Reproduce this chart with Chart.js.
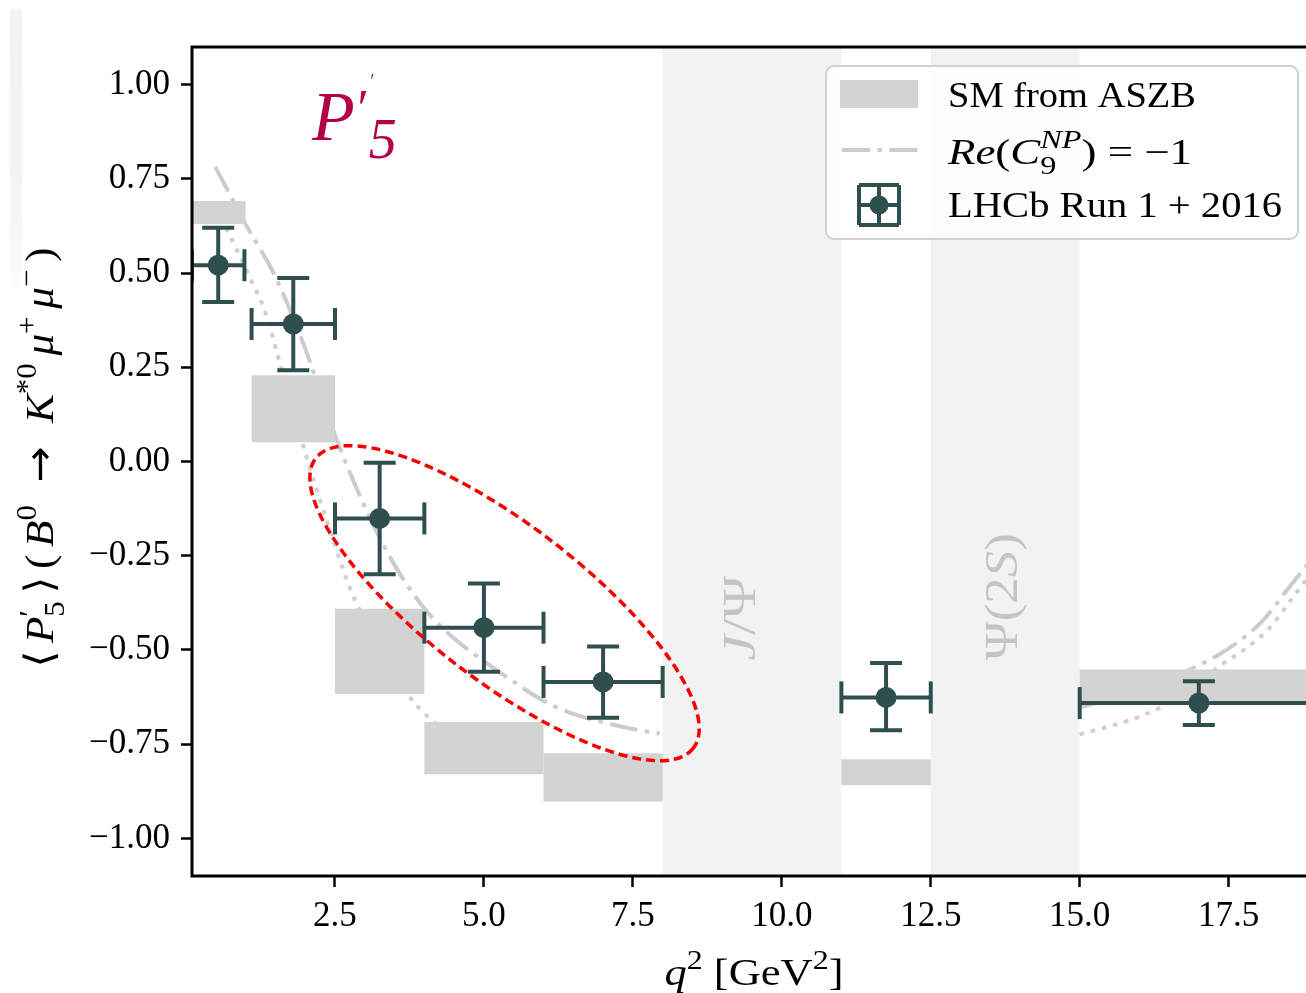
<!DOCTYPE html>
<html>
<head>
<meta charset="utf-8">
<script src="https://cdn.jsdelivr.net/npm/chart.js@4.4.1/dist/chart.umd.min.js"></script>
<style>
  html, body { margin: 0; padding: 0; background: #fff; overflow: hidden; width: 1306px; height: 993px; }
  #wrap { position: relative; width: 1306px; height: 993px; overflow: hidden; }
  #edge { position: absolute; left: 10px; top: 10px; width: 12px; height: 290px;
          background: linear-gradient(to bottom, #f1f1f1, #f5f5f5 70%, rgba(255,255,255,0)); }
  canvas { position: absolute; left: 0; top: 0; }
</style>
</head>
<body>
<div id="wrap">
  <div id="edge"></div>
  <canvas id="chart" width="1340" height="993"></canvas>
</div>
<script>
// ---- q^2 bins and LHCb Run 1 + 2016 measurements of P5' ----
const binLo = [0.1, 1.1, 2.5, 4.0, 6.0, 11.0, 15.0];
const binHi = [0.98, 2.5, 4.0, 6.0, 8.0, 12.5, 19.0];
const lhcbX = [0.54, 1.8, 3.25, 5.0, 7.0, 11.75, 17.0];
const lhcbY = [0.521, 0.365, -0.151, -0.441, -0.585, -0.626, -0.641];
const lhcbErrUp = [0.099, 0.122, 0.148, 0.117, 0.094, 0.091, 0.058];
const lhcbErrDn = [0.098, 0.123, 0.148, 0.117, 0.095, 0.087, 0.058];

// ---- SM prediction boxes (ASZB) ----
const smLo = [0.1, 1.1, 2.5, 4.0, 6.0, 11.0, 15.0];
const smHi = [1.0, 2.5, 4.0, 6.0, 8.0, 12.5, 19.0];
const smYLo = [0.630, 0.051, -0.617, -0.830, -0.902, -0.859, -0.636];
const smYHi = [0.691, 0.229, -0.391, -0.691, -0.774, -0.790, -0.552];

// ---- charmonium veto regions ----
const vetoLo = [8.0, 12.5];
const vetoHi = [11.0, 15.0];

// ---- Re(C9^NP) = -1 curve (dash-dot) ----
const np9LowX = [0.49, 1.0, 1.5, 2.0, 2.5, 3.0, 3.5, 4.0, 4.5, 5.0, 5.5, 6.0, 6.5, 7.0, 7.5, 7.95];
const np9LowY = [0.782, 0.63, 0.49, 0.30, 0.07, -0.12, -0.275, -0.39, -0.47, -0.53, -0.585, -0.635, -0.67, -0.692, -0.71, -0.722];
const np9HighX = [15.0, 15.5, 16.0, 16.5, 16.9, 17.3, 17.68, 18.07, 18.47, 18.79, 19.0];
const np9HighY = [-0.652, -0.632, -0.607, -0.578, -0.548, -0.516, -0.476, -0.423, -0.343, -0.28, -0.238];

// ---- SM curve (dotted) ----
const smCurveLowX = [0.5, 0.69, 1.07, 1.36, 1.54, 1.95, 2.43, 2.84, 3.3, 3.72, 4.14, 4.6, 5.2, 6.0, 7.0, 7.95];
const smCurveLowY = [0.675, 0.614, 0.489, 0.383, 0.28, 0.05, -0.19, -0.37, -0.50, -0.617, -0.689, -0.74, -0.78, -0.81, -0.83, -0.84];
const smCurveHighX = [15.0, 15.79, 16.34, 16.9, 17.4, 17.8, 18.19, 18.57, 18.79, 19.0];
const smCurveHighY = [-0.724, -0.689, -0.654, -0.60, -0.537, -0.495, -0.441, -0.362, -0.316, -0.27];

// ---- axes ----
const xTickValues = [2.5, 5.0, 7.5, 10.0, 12.5, 15.0, 17.5];
const yTickValues = [-1.0, -0.75, -0.5, -0.25, 0.0, 0.25, 0.5, 0.75, 1.0];
const X_MIN = 0.1, X_MAX = 19.0, Y_MIN = -1.1, Y_MAX = 1.1;

// ---- styling ----
const FONT = '"Liberation Serif", "DejaVu Serif", serif';
const DATA_COLOR = '#2f4f4f';
const SM_BOX_COLOR = 'rgb(211,211,211)';
const VETO_COLOR = 'rgb(242,242,242)';
const CURVE_COLOR = 'rgb(204,204,204)';
const DOT_COLOR = 'rgb(208,208,208)';
const DASHDOT = [28, 7.5, 4.5, 7.5];
const DOTTED = [4.5, 7];

const pts = (xs, ys) => xs.map((x, i) => ({ x, y: ys[i] }));
const rect = (x0, x1, y0, y1) => [{x: x0, y: y0}, {x: x1, y: y0}, {x: x1, y: y1}, {x: x0, y: y1}];

const datasets = [];

vetoLo.forEach((lo, i) => datasets.push({
  data: rect(lo, vetoHi[i], Y_MIN, Y_MAX), fill: 'shape', backgroundColor: VETO_COLOR,
  borderWidth: 0, pointRadius: 0, tension: 0, order: 60
}));

const curveStyle = (color, dash) => ({
  fill: false, borderColor: color, borderWidth: 4, borderDash: dash, borderCapStyle: 'butt',
  pointRadius: 0, cubicInterpolationMode: 'monotone', order: 50
});
datasets.push({ data: pts(smCurveLowX, smCurveLowY), ...curveStyle(DOT_COLOR, DOTTED) });
datasets.push({ data: pts(smCurveHighX, smCurveHighY), ...curveStyle(DOT_COLOR, DOTTED) });
datasets.push({ data: pts(np9LowX, np9LowY), ...curveStyle(CURVE_COLOR, DASHDOT) });
datasets.push({ data: pts(np9HighX, np9HighY), ...curveStyle(CURVE_COLOR, DASHDOT) });

smLo.forEach((lo, i) => datasets.push({
  data: rect(lo, smHi[i], smYLo[i], smYHi[i]), fill: 'shape', backgroundColor: SM_BOX_COLOR,
  borderWidth: 0, pointRadius: 0, tension: 0, order: 40
}));

// horizontal error bars (bin widths) with vertical caps
const errXData = [];
lhcbX.forEach((x, i) => {
  errXData.push({x: binLo[i], y: lhcbY[i]}, {x: binHi[i], y: lhcbY[i]}, {x: binHi[i], y: null});
});
// vertical error bars with horizontal caps
const errYData = [];
lhcbX.forEach((x, i) => {
  errYData.push({x, y: lhcbY[i] - lhcbErrDn[i]}, {x, y: lhcbY[i] + lhcbErrUp[i]}, {x, y: null});
});
const barStyle = (rot) => ({
  showLine: true, spanGaps: false, fill: false, tension: 0,
  borderColor: DATA_COLOR, borderWidth: 4,
  pointStyle: 'line', pointRotation: rot, pointRadius: 16,
  pointBorderColor: DATA_COLOR, pointBorderWidth: 4, pointBackgroundColor: DATA_COLOR, order: 20
});
datasets.push({ data: errXData, ...barStyle(90) });
datasets.push({ data: errYData, ...barStyle(0) });
datasets.push({
  data: pts(lhcbX, lhcbY), showLine: false, pointStyle: 'circle', pointRadius: 10.5,
  pointBackgroundColor: DATA_COLOR, pointBorderWidth: 0, order: 10
});

// ---- rich text (sub/superscripts) ----
// When a label is spread to a given length, each gap after a run gets extra space
// in proportion to the run's weight g (default 1).
function layoutRuns(ctx, runs, size, extra) {
  const items = [];
  let cx = 0, stackX = null, stackW = 0, weights = 0;
  runs.forEach((r, idx) => {
    const sz = size * (r.s || 1);
    const font = (r.it ? 'italic ' : '') + sz + 'px ' + (r.f || FONT);
    ctx.font = font;
    const dx = (r.dx || 0) * size;
    const w = ctx.measureText(r.t).width + dx;
    const x0 = (stackX !== null ? stackX : cx) + dx;
    items.push({ t: r.t, font, x: x0, y: (r.dy || 0) * size, c: r.c });
    if (r.stack) {
      if (stackX === null) stackX = cx;
      stackW = Math.max(stackW, w);
      return;
    }
    if (stackX !== null) { cx = stackX + Math.max(stackW, w); stackX = null; stackW = 0; }
    else cx += w;
    if (idx < runs.length - 1) {
      const g = r.g != null ? r.g : 1;
      cx += extra * g; weights += g;
    }
  });
  return { items, width: cx, weights };
}

function drawRich(ctx, runs, o) {
  ctx.save();
  let lay = layoutRuns(ctx, runs, o.size, 0);
  let sx = o.sx || 1;
  if (o.width && o.spread && lay.weights > 0) {
    lay = layoutRuns(ctx, runs, o.size, (o.width / sx - lay.width) / lay.weights);
  } else if (o.width) {
    sx = o.width / lay.width;
  }
  const total = lay.width * sx;
  ctx.translate(o.x, o.y);
  if (o.rotate) ctx.rotate(o.rotate);
  ctx.translate(o.align === 'center' ? -total / 2 : (o.align === 'right' ? -total : 0), 0);
  ctx.scale(sx, 1);
  ctx.textBaseline = 'alphabetic';
  ctx.textAlign = 'left';
  for (const it of lay.items) {
    ctx.font = it.font;
    ctx.fillStyle = it.c || o.color || '#000';
    ctx.fillText(it.t, it.x, it.y);
  }
  ctx.restore();
}

const ARROW_FONT = '"DejaVu Sans", sans-serif';
const yTitleRuns = [
  {t: '⟨'}, {t: 'P', it: 1, g: 0}, {t: '′', s: 0.72, dy: -0.36, stack: 1}, {t: '5', s: 0.72, dy: 0.28}, {t: '⟩'},
  {t: '('}, {t: 'B', it: 1, g: 0}, {t: '0', s: 0.72, dy: -0.42, g: 3}, {t: '→', f: ARROW_FONT, g: 3},
  {t: 'K', it: 1, g: 0}, {t: '*0', s: 0.72, dy: -0.42}, {t: 'μ', it: 1, g: 0}, {t: '+', s: 0.72, dy: -0.42},
  {t: 'μ', it: 1, g: 0}, {t: '−', s: 0.72, dy: -0.42}, {t: ')'}
];
const xTitleRuns = [{t: 'q', it: 1}, {t: '2', s: 0.72, dy: -0.42}, {t: ' [GeV'}, {t: '2', s: 0.72, dy: -0.42}, {t: ']'}];
const legendRuns = [
  [{t: 'SM from ASZB'}],
  [{t: 'Re', it: 1}, {t: '('}, {t: 'C', it: 1}, {t: 'NP', it: 1, s: 0.72, dy: -0.45, stack: 1}, {t: '9', s: 0.72, dy: 0.28}, {t: ')'}, {t: ' = −1'}],
  [{t: 'LHCb Run 1 + 2016'}]
];
const jpsiRuns = [{t: 'J', it: 1}, {t: '/Ψ'}];
const psi2sRuns = [{t: 'Ψ(2'}, {t: 'S', it: 1}, {t: ')'}];
const p5Runs = [{t: 'P', it: 1}, {t: '′', s: 0.75, dy: -0.2, dx: 0.04, stack: 1}, {t: '5', it: 1, s: 0.8, dy: 0.25, dx: 0.2}];

const decorations = {
  id: 'decorations',
  afterDatasetsDraw(chart) {
    const ctx = chart.ctx;
    const {left, right, top, bottom} = chart.chartArea;
    const xs = chart.scales.x, ys = chart.scales.y;

    // veto region labels
    drawRich(ctx, jpsiRuns, { x: xs.getPixelForValue(9.55), y: ys.getPixelForValue(-0.416), size: 46,
      align: 'center', rotate: -Math.PI / 2, width: 85, color: 'rgb(196,196,196)' });
    drawRich(ctx, psi2sRuns, { x: xs.getPixelForValue(13.95), y: ys.getPixelForValue(-0.359), size: 46,
      align: 'center', rotate: -Math.PI / 2, width: 127, color: 'rgb(196,196,196)' });

    // observable label
    const px = xs.getPixelForValue(2.114), py = ys.getPixelForValue(0.852);
    drawRich(ctx, p5Runs, { x: px, y: py, size: 70, color: 'rgb(178,0,72)' });
    ctx.save();
    ctx.font = 'italic 20px ' + FONT;
    ctx.fillStyle = '#555';
    ctx.fillText('′', px + 57, py - 52);
    ctx.restore();

    // axes frame
    ctx.save();
    ctx.strokeStyle = '#000';
    ctx.lineWidth = 3;
    ctx.strokeRect(left, top, right - left, bottom - top);
    ctx.restore();

    // highlighted region
    ctx.save();
    ctx.beginPath();
    ctx.ellipse(xs.getPixelForValue(5.346), ys.getPixelForValue(-0.376), 238, 78, 37.5 * Math.PI / 180, 0, Math.PI * 2);
    ctx.setLineDash([9, 5]);
    ctx.lineWidth = 3.5;
    ctx.strokeStyle = 'rgb(245,0,0)';
    ctx.stroke();
    ctx.restore();

    // legend
    const L = {x: 826, y: 66, w: 472, h: 173};
    ctx.save();
    ctx.beginPath();
    ctx.roundRect(L.x, L.y, L.w, L.h, 8);
    ctx.fillStyle = 'rgba(255,255,255,0.8)';
    ctx.fill();
    ctx.lineWidth = 2;
    ctx.strokeStyle = 'rgb(208,208,208)';
    ctx.stroke();

    ctx.fillStyle = SM_BOX_COLOR;
    ctx.fillRect(840, 80, 78, 28);

    ctx.beginPath();
    ctx.setLineDash(DASHDOT);
    ctx.lineWidth = 4;
    ctx.strokeStyle = CURVE_COLOR;
    ctx.moveTo(842, 150); ctx.lineTo(918, 150);
    ctx.stroke();
    ctx.setLineDash([]);

    const ex = 879, ey = 205, eh = 20;
    ctx.strokeStyle = DATA_COLOR;
    ctx.lineWidth = 4;
    ctx.beginPath();
    ctx.moveTo(ex - eh, ey); ctx.lineTo(ex + eh, ey);
    ctx.moveTo(ex, ey - eh); ctx.lineTo(ex, ey + eh);
    ctx.moveTo(ex - eh, ey - eh); ctx.lineTo(ex - eh, ey + eh);
    ctx.moveTo(ex + eh, ey - eh); ctx.lineTo(ex + eh, ey + eh);
    ctx.moveTo(ex - eh, ey - eh); ctx.lineTo(ex + eh, ey - eh);
    ctx.moveTo(ex - eh, ey + eh); ctx.lineTo(ex + eh, ey + eh);
    ctx.stroke();
    ctx.beginPath();
    ctx.arc(ex, ey, 9.5, 0, Math.PI * 2);
    ctx.fillStyle = DATA_COLOR;
    ctx.fill();
    ctx.restore();

    drawRich(ctx, legendRuns[0], { x: 948, y: 107, size: 36, width: 248 });
    drawRich(ctx, legendRuns[1], { x: 948, y: 164, size: 36, width: 244 });
    drawRich(ctx, legendRuns[2], { x: 948, y: 217, size: 36, width: 334 });

    // axis titles
    drawRich(ctx, xTitleRuns, { x: (left + right) / 2 - 1, y: 985, size: 38, align: 'center', width: 179 });
    drawRich(ctx, yTitleRuns, { x: 53, y: (top + bottom) / 2 - 4, size: 40, align: 'center',
      rotate: -Math.PI / 2, width: 420, spread: true, sx: 1.08 });
  }
};

const fmtY = v => (Math.abs(v) < 1e-9 ? '0.00' : v.toFixed(2).replace('-', '−'));

new Chart(document.getElementById('chart').getContext('2d'), {
  type: 'line',
  data: { datasets },
  options: {
    responsive: false,
    animation: false,
    devicePixelRatio: 1,
    events: [],
    layout: { padding: { left: 0, right: 22, top: 47, bottom: 0 } },
    plugins: { legend: { display: false }, tooltip: { enabled: false } },
    scales: {
      x: {
        type: 'linear', min: X_MIN, max: X_MAX,
        afterBuildTicks: s => { s.ticks = xTickValues.map(v => ({ value: v })); },
        afterFit: s => { s.height = 117; },
        ticks: { font: { family: FONT, size: 35 }, color: '#000', padding: 9, maxRotation: 0, autoSkip: false,
                 callback: v => Number(v).toFixed(1) },
        grid: { display: true, drawOnChartArea: false, drawTicks: true, tickLength: 11, tickWidth: 2.5, tickColor: '#000' },
        border: { display: false }
      },
      y: {
        type: 'linear', min: Y_MIN, max: Y_MAX,
        afterBuildTicks: s => { s.ticks = yTickValues.map(v => ({ value: v })); },
        afterFit: s => { s.width = 192; },
        ticks: { font: { family: FONT, size: 35 }, color: '#000', padding: 11, autoSkip: false,
                 callback: v => fmtY(Number(v)) },
        grid: { display: true, drawOnChartArea: false, drawTicks: true, tickLength: 11, tickWidth: 2.5, tickColor: '#000' },
        border: { display: false }
      }
    }
  },
  plugins: [decorations]
});
</script>
</body>
</html>
